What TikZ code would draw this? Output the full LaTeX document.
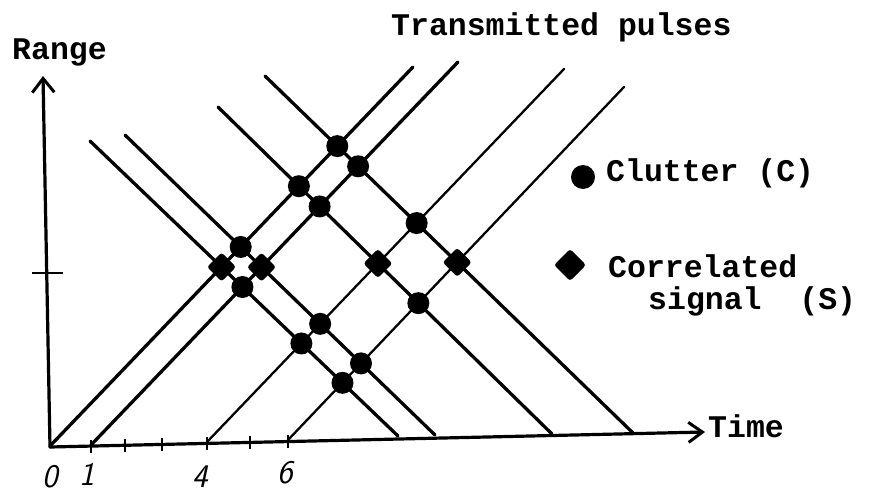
\documentclass[tikz,border=0pt]{standalone}
\usepackage{fontspec}
\setmonofont{Liberation Mono}
\usetikzlibrary{arrows.meta,shapes.geometric}
\tikzset{
  thick line/.style={line width=3.3pt,line cap=round},
  thin line/.style={line width=2.3pt,line cap=round},
  axis line/.style={line width=3.2pt,line cap=round},
  cdot/.style={circle,fill=black,minimum size=22pt,inner sep=0pt},
  sdot/.style={diamond,fill=black,draw=black,line width=2pt,rounded corners=2pt,minimum size=27pt,inner sep=0pt},
  label text/.style={font=\fontsize{31.5}{33}\selectfont\ttfamily\bfseries,inner sep=0pt},
  digit/.style={font=\fontsize{33}{35}\selectfont\sffamily\itshape,inner sep=0pt},
  tick mark/.style={line width=2.4pt}
}
\begin{document}
\begin{tikzpicture}[x=1pt,y=-1pt]
\useasboundingbox (0,0) rectangle (869,492);
% axes
\coordinate (O) at (50,447);
\coordinate (Xend) at (705,432);
\coordinate (Yend) at (43,76);
\draw[axis line,-{Straight Barb[length=14pt,width=20pt,line width=3pt]}] (O) -- (Xend);
\draw[axis line,-{Straight Barb[length=14pt,width=22pt,line width=3pt]}] (O) -- (Yend);
% x ticks
\foreach \tx/\ty in {91/446, 125/445, 162/444, 207/443, 250/442, 288/441}
  \draw[tick mark] (\tx,\ty-6) -- (\tx,\ty+7);
% y tick
\coordinate (ytl) at (32,273);
\coordinate (ytr) at (63,273);
\draw[tick mark,line width=2.8pt] (ytl) -- (ytr);
% transmitted pulses (up-right)
\coordinate (u0a) at (50,446);  \coordinate (u0b) at (413,67);
\coordinate (u1a) at (91,445);  \coordinate (u1b) at (458,62);
\coordinate (u4a) at (207,442); \coordinate (u4b) at (564,69);
\coordinate (u6a) at (288,440); \coordinate (u6b) at (624,87);
% echoes (down-right)
\coordinate (dAa) at (90,141);  \coordinate (dAb) at (398,436);
\coordinate (dBa) at (125,135); \coordinate (dBb) at (435,435);
\coordinate (dCa) at (218,107); \coordinate (dCb) at (552,434);
\coordinate (dDa) at (265,76);  \coordinate (dDb) at (633,433);
\draw[thick line] (u0a) -- (u0b);
\draw[thick line] (u1a) -- (u1b);
\draw[thin line] (u4a) -- (u4b);
\draw[thin line] (u6a) -- (u6b);
\draw[thick line] (dAa) -- (dAb);
\draw[thick line] (dBa) -- (dBb);
\draw[thick line] (dCa) -- (dCb);
\draw[thick line] (dDa) -- (dDb);
% intersections
\node[sdot] (s0A) at (intersection of u0a--u0b and dAa--dAb) {};
\node[cdot] (c0B) at (intersection of u0a--u0b and dBa--dBb) {};
\node[cdot] (c0C) at (intersection of u0a--u0b and dCa--dCb) {};
\node[cdot] (c0D) at (intersection of u0a--u0b and dDa--dDb) {};
\node[cdot] (c1A) at (intersection of u1a--u1b and dAa--dAb) {};
\node[sdot] (s1B) at (intersection of u1a--u1b and dBa--dBb) {};
\node[cdot] (c1C) at (intersection of u1a--u1b and dCa--dCb) {};
\node[cdot] (c1D) at (intersection of u1a--u1b and dDa--dDb) {};
\node[cdot] (c4A) at (intersection of u4a--u4b and dAa--dAb) {};
\node[cdot] (c4B) at (intersection of u4a--u4b and dBa--dBb) {};
\node[sdot] (s4C) at (intersection of u4a--u4b and dCa--dCb) {};
\node[cdot] (c4D) at (intersection of u4a--u4b and dDa--dDb) {};
\node[cdot] (c6A) at (intersection of u6a--u6b and dAa--dAb) {};
\node[cdot] (c6B) at (intersection of u6a--u6b and dBa--dBb) {};
\node[cdot] (c6C) at (intersection of u6a--u6b and dCa--dCb) {};
\node[sdot] (s6D) at (intersection of u6a--u6b and dDa--dDb) {};
% legend
\node[cdot,minimum size=24pt] (legc) at (583,177) {};
\node[sdot,minimum size=30pt] (legs) at (570,265) {};
% labels
\node[label text,anchor=base west] (range) at (12,60) {Range};
\node[label text,anchor=base west] (tp) at (391,36) {Transmitted pulses};
\node[label text,anchor=base west] (clut) at (606,181) {Clutter (C)};
\node[label text,anchor=base west] (corr) at (608,277) {Correlated};
\node[label text,anchor=base west] (sig) at (648,309) {signal~~(S)};
\node[label text,anchor=base west] (time) at (708,437) {Time};
\node[digit,anchor=base] (d0) at (50,487) {0};
\node[digit,anchor=base] (d1) at (87,485) {1};
\node[digit,anchor=base] (d4) at (200,487) {4};
\node[digit,anchor=base] (d6) at (285,483) {6};
\end{tikzpicture}
\end{document}
